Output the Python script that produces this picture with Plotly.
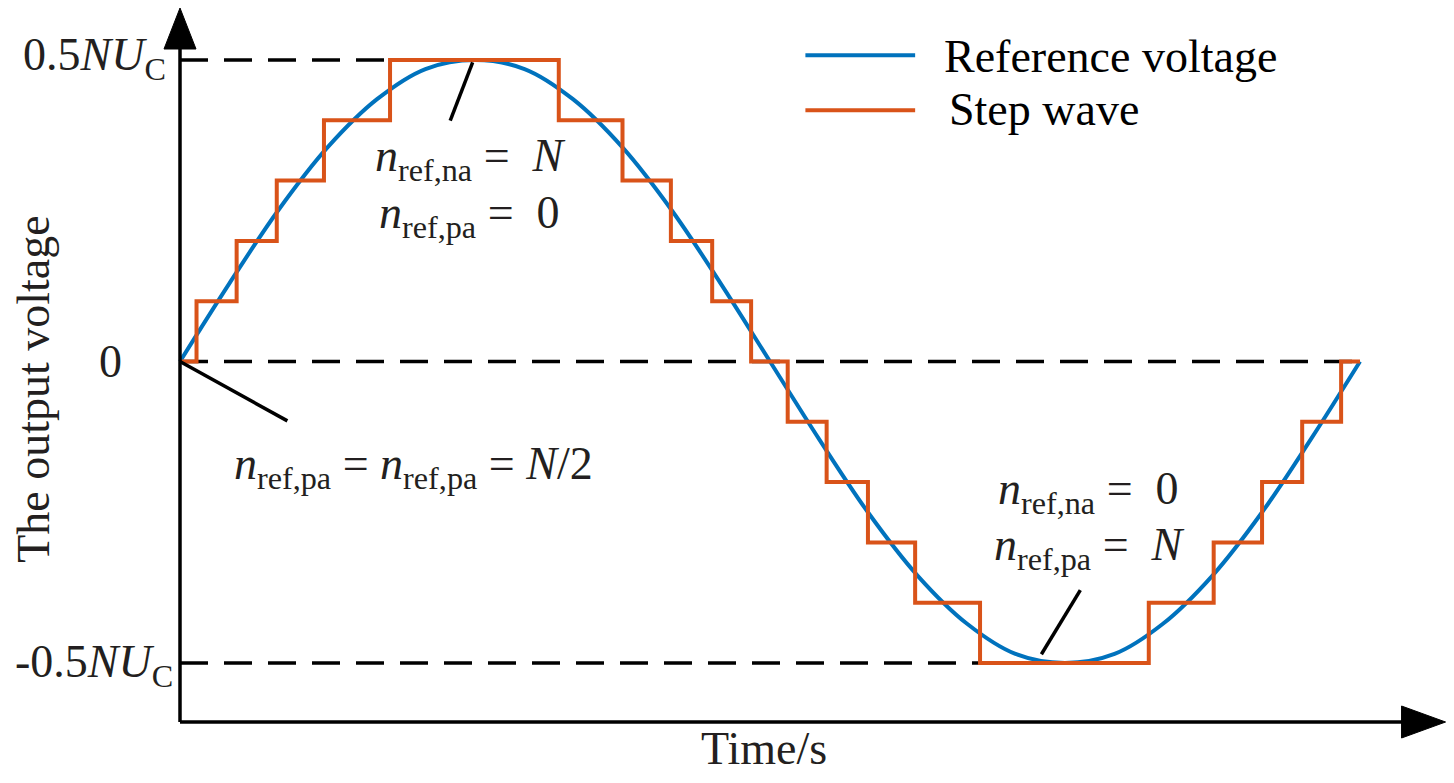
import plotly.graph_objects as go

# reference voltage, one period (time normalised to the period, voltage to 0.5*N*Uc)
t_ref = [0.0, 0.042, 0.083, 0.125, 0.167, 0.208, 0.25, 0.292, 0.333, 0.375, 0.417, 0.458,
         0.5, 0.542, 0.583, 0.625, 0.667, 0.708, 0.75, 0.792, 0.833, 0.875, 0.917, 0.958, 1.0]
v_ref = [0.0, 0.26, 0.50, 0.71, 0.87, 0.97, 1.0, 0.97, 0.87, 0.71, 0.50, 0.26,
         0.0, -0.26, -0.50, -0.71, -0.87, -0.97, -1.0, -0.97, -0.87, -0.71, -0.50, -0.26, 0.0]

# step wave: switching instants and the level held after each one
t_step = [0.0, 0.014, 0.048, 0.082, 0.122, 0.178, 0.321, 0.375, 0.416, 0.451, 0.484,
          0.515, 0.548, 0.583, 0.623, 0.678, 0.821, 0.876, 0.917, 0.951, 0.984, 1.0]
v_step = [0.0, 0.2, 0.4, 0.6, 0.8, 1.0, 0.8, 0.6, 0.4, 0.2, 0.0,
          -0.2, -0.4, -0.6, -0.8, -1.0, -0.8, -0.6, -0.4, -0.2, 0.0, 0.0]

level_labels = ["0.5<i>NU</i><sub>C</sub>", "0", "-0.5<i>NU</i><sub>C</sub>"]
series_names = ["Reference voltage", "Step wave"]

BLUE = "#0072bd"
ORANGE = "#d95319"
INK = "#231f20"
FONT = "Liberation Serif"
FS = 46

# the plot area fills the whole figure; the page adds an 8px body margin
X_RANGE = [-0.14576, 1.07288]
Y_RANGE = [-1.37148, 1.17247]
AX_Y = -1.1957          # level of the time axis
X_TIP = 1.0725          # tip of the time-axis arrow

fig = go.Figure()
fig.add_trace(go.Scatter(x=t_ref, y=v_ref, mode="lines", name=series_names[0],
                         line=dict(color=BLUE, width=4, shape="spline", smoothing=1.0)))
fig.add_trace(go.Scatter(x=t_step, y=v_step, mode="lines", name=series_names[1],
                         line=dict(color=ORANGE, width=4, shape="hv")))

shapes = []
# dashed guide lines at +peak, zero and -peak
for y0, x1 in [(1.0, 0.25), (0.0, 1.0), (-1.0, 0.75)]:
    shapes.append(dict(type="line", xref="x", yref="y", x0=0, x1=x1, y0=y0, y1=y0,
                       line=dict(color="black", width=3.5, dash="28px,16px"), layer="below"))

# axes
shapes.append(dict(type="line", xref="x", yref="y", x0=0, x1=0, y0=AX_Y, y1=1.05,
                   line=dict(color="black", width=3.5)))
shapes.append(dict(type="line", xref="x", yref="y", x0=0, x1=1.04, y0=AX_Y, y1=AX_Y,
                   line=dict(color="black", width=3.5)))
shapes.append(dict(type="path", xref="x", yref="y", xsizemode="pixel", ysizemode="pixel",
                   xanchor=0, yanchor=Y_RANGE[1], path="M-16,-41 L16,-41 L0,0 Z",
                   fillcolor="black", line=dict(color="black", width=1)))
shapes.append(dict(type="path", xref="x", yref="y", xsizemode="pixel", ysizemode="pixel",
                   xanchor=X_TIP, yanchor=AX_Y, path="M-44,-16 L-44,16 L0,0 Z",
                   fillcolor="black", line=dict(color="black", width=1)))

# leader lines from the labels to the curve
for x0, y0, x1, y1 in [(0.248, 0.992, 0.229, 0.799),
                       (0.0, 0.0, 0.091, -0.197),
                       (0.763, -0.758, 0.730, -0.971)]:
    shapes.append(dict(type="line", xref="x", yref="y", x0=x0, y0=y0, x1=x1, y1=y1,
                       line=dict(color="black", width=3.5)))

# legend drawn by hand so the sample lines get the long form of the original
for yl, col in [(1.016, BLUE), (0.833, ORANGE)]:
    shapes.append(dict(type="line", xref="x", yref="y", x0=0.530, x1=0.623, y0=yl, y1=yl,
                       line=dict(color=col, width=4)))

annotations = []


def label(text, x, y, xanchor="center", yanchor="middle", xshift=0, yshift=0, angle=0, color=INK):
    annotations.append(dict(text=text, x=x, y=y, xref="x", yref="y", showarrow=False,
                            xanchor=xanchor, yanchor=yanchor, xshift=xshift, yshift=yshift,
                            textangle=angle, borderpad=0,
                            font=dict(family=FONT, size=FS, color=color)))


label(level_labels[0], 0, 1.0, xanchor="right", xshift=-13, yshift=2)
label(level_labels[1], 0, 0.0, xanchor="center", xshift=-70)
label(level_labels[2], 0, -1.0, xanchor="right", xshift=-6, yshift=-2)

label("<i>n</i><sub>ref,na</sub> =  <i>N</i>", 0.246, 0.67)
label("<i>n</i><sub>ref,pa</sub> =  0", 0.245, 0.483)
label("<i>n</i><sub>ref,pa</sub> = <i>n</i><sub>ref,pa</sub> = <i>N</i>/2", 0.198, -0.35)
label("<i>n</i><sub>ref,na</sub> =  0", 0.770, -0.433)
label("<i>n</i><sub>ref,pa</sub> =  <i>N</i>", 0.771, -0.617)

label(series_names[0], 0.647, 1.01, xanchor="left", color="black")
label(series_names[1], 0.651, 0.835, xanchor="left", color="black")

label("The output voltage", 0, -0.094, xshift=-146, angle=-90, color=INK)
label("Time/s", 0.495, -1.285, color=INK)

fig.update_layout(
    width=1438, height=767,
    margin=dict(l=0, r=0, t=0, b=0),
    paper_bgcolor="white", plot_bgcolor="white",
    showlegend=False,
    shapes=shapes, annotations=annotations,
    xaxis=dict(range=X_RANGE, showgrid=False, zeroline=False, showticklabels=False,
               ticks="", showline=False),
    yaxis=dict(range=Y_RANGE, showgrid=False, zeroline=False, showticklabels=False,
               ticks="", showline=False),
)

fig.write_html("out.html")
